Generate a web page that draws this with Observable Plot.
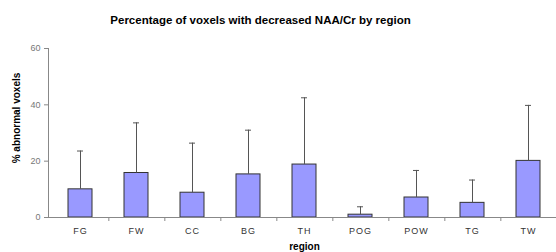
<!DOCTYPE html>
<html>
<head>
<meta charset="utf-8">
<script src="https://cdn.jsdelivr.net/npm/d3@7"></script>
<script src="https://cdn.jsdelivr.net/npm/@observablehq/plot@0.6"></script>
<style>
  body { margin: 0; background: #fff; }
  #chart svg { display: block; }
  g[aria-label="x-axis tick label"] text { letter-spacing: 1px; }
</style>
</head>
<body>
<div id="chart"></div>
<script>
const regions = ["FG", "FW", "CC", "BG", "TH", "POG", "POW", "TG", "TW"];
const means = [10, 15.8, 8.8, 15.3, 18.8, 1, 7.1, 5.2, 20.1];
const upper = [23.6, 33.6, 26.4, 31, 42.5, 3.8, 16.7, 13.3, 39.8];
const yTicks = [0, 20, 40, 60];

const data = regions.map((r, i) => ({region: r, mean: means[i], upper: upper[i]}));

const W = 556, H = 252;
const xRange = [49, 559];
const step = (xRange[1] - xRange[0]) / regions.length;
const font = "'Liberation Sans', Arial, sans-serif";

const chart = Plot.plot({
  width: W,
  height: H,
  marginLeft: 48,
  marginRight: 0,
  marginTop: 48,
  marginBottom: 35,
  style: {fontFamily: font, background: "#fff"},
  x: {domain: regions, range: xRange, paddingInner: 0.58, paddingOuter: 0.29, label: null},
  y: {domain: [0, 60], label: null},
  marks: [
    Plot.barY(data, {x: "region", y: "mean", fill: "#9999ff", stroke: "#333", strokeWidth: 1}),
    Plot.ruleX(data, {x: "region", y1: "mean", y2: "upper", stroke: "#555", strokeWidth: 1}),
    Plot.tickY(data, {x: "region", y: "upper", stroke: "#555", strokeWidth: 1, insetLeft: 9, insetRight: 9}),
    Plot.ruleY([0], {stroke: "#888", strokeWidth: 1}),
    Plot.ruleX(regions, {x: d => d, dx: step / 2, y1: 0, y2: 0, insetBottom: -4, stroke: "#888"}),
    Plot.frame({anchor: "left", stroke: "#888"}),
    Plot.axisY({ticks: yTicks, tickSize: 4, tickPadding: 4, stroke: "#888", fill: "#777", fontSize: 9, label: null}),
    Plot.axisX({tickSize: 0, tickPadding: 10, fill: "#333", fontSize: 9, label: null}),
    Plot.text(["Percentage of voxels with decreased NAA/Cr by region"], {frameAnchor: "top", textAnchor: "middle", dx: -42, dy: -33, fontWeight: "bold", fontSize: 11.5, fill: "#000"}),
    Plot.text(["% abnormal voxels"], {frameAnchor: "left", textAnchor: "middle", rotate: -90, dx: -32, dy: -15, fontWeight: "bold", fontSize: 10, fill: "#000"}),
    Plot.text(["region"], {frameAnchor: "bottom", textAnchor: "middle", dx: 2, dy: 32, fontWeight: "bold", fontSize: 10, fill: "#000"})
  ]
});
document.getElementById("chart").appendChild(chart);
</script>
</body>
</html>
